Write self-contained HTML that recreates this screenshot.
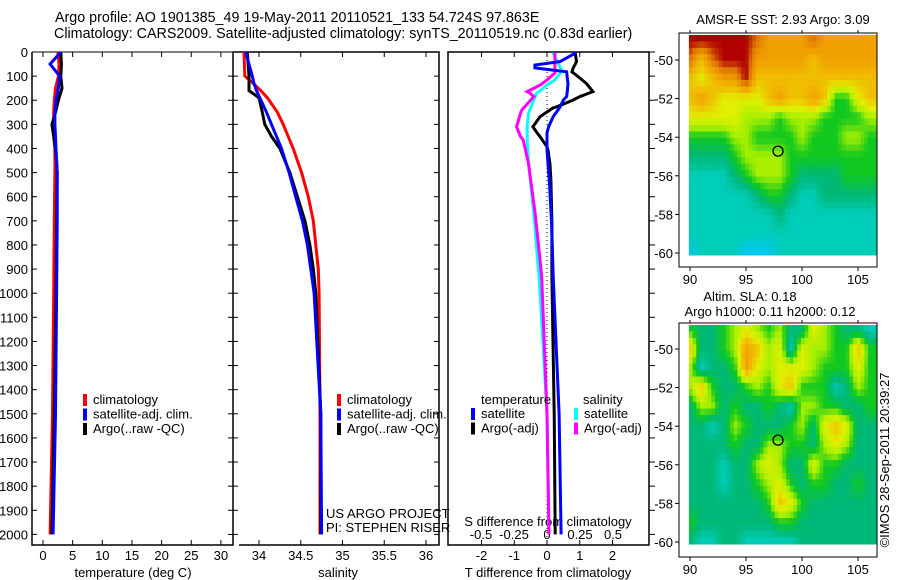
<!DOCTYPE html>
<html><head><meta charset="utf-8">
<style>
body{margin:0;background:#fff;}
svg{display:block;font-family:"Liberation Sans",sans-serif;}
text{font-size:12px;fill:#000;}
</style></head>
<body>
<svg id="fig" width="900" height="580" viewBox="0 0 900 580">
<text x="55" y="22" style="font-size:14.3px">Argo profile: AO 1901385_49 19-May-2011 20110521_133 54.724S 97.863E</text>
<text x="54" y="38" style="font-size:14.3px">Climatology: CARS2009. Satellite-adjusted climatology: synTS_20110519.nc (0.83d earlier)</text>
<g id="g"></g>
</svg>
<script>
// ---------- data ----------
const tDepth=[0,50,100,150,200,250,300,350,400,450,500,700,1000,1500,2000];
const tClim=[2.5,2.7,2.6,2.1,1.9,1.8,1.8,1.8,2.0,2.0,2.0,1.9,1.8,1.6,1.2];
const tSat=[3.0,1.2,2.8,2.6,2.2,2.0,2.0,2.1,2.2,2.3,2.4,2.4,2.3,2.1,1.7];
const tArgo=[3.0,3.1,3.0,3.2,2.6,2.1,1.5,1.8,2.1,2.3,2.4,2.3,2.2,1.9,1.5];

const sDepth=[0,100,130,160,190,250,300,350,400,500,600,700,800,900,1000,1500,2000];
const sClim=[33.82,33.83,33.93,34.02,34.1,34.22,34.29,34.35,34.41,34.51,34.59,34.65,34.68,34.71,34.72,34.73,34.73];
const sSat=[33.84,33.92,33.94,33.97,34.01,34.09,34.15,34.21,34.27,34.36,34.44,34.52,34.58,34.62,34.66,34.74,34.75];
const sArgo=[33.86,33.88,33.88,33.88,34.0,34.04,34.07,34.15,34.25,34.37,34.46,34.55,34.61,34.65,34.68,34.74,34.74];

const dtDepth=[3,40,54,66,82,108,130,164,185,199,227,232,268,310,336,351,393,406,462,531,710,932,1500,2000];
const dtSat=[0.89,0.4,-0.37,-0.37,0.6,0.62,0.64,0.62,0.6,0.5,0.4,0.38,0.19,0.05,0,0,0,0,0.03,0.07,0.14,0.19,0.37,0.43];
const dtArgo=[0.86,0.9,0.85,0.8,0.76,1.0,1.2,1.4,1.0,0.8,0.3,0.18,-0.21,-0.43,-0.3,-0.21,0,0.03,0.09,0.12,0.15,0.15,0.22,0.25];
const dsDepth=[3,75,87,116,137,164,170,185,240,253,310,351,365,462,668,876,932,1500,2000];
const dsSat=[0.045,0.11,0.1,0.06,0.0,-0.06,-0.076,-0.09,-0.13,-0.14,-0.15,-0.15,-0.15,-0.14,-0.1,-0.07,-0.06,0,0.015];
const dsArgo=[0.06,0.06,0.06,0.0,-0.05,-0.15,-0.13,-0.1,-0.19,-0.2,-0.23,-0.2,-0.18,-0.14,-0.09,-0.05,-0.04,0,0.015];

const depthTicks=[0,100,200,300,400,500,600,700,800,900,1000,1100,1200,1300,1400,1500,1600,1700,1800,1900,2000];
const tTicks=[0,5,10,15,20,25,30];
const sTicks=[34,34.5,35,35.5,36];
const sTickLabels=["34","34.5","35","35.5","36"];
const dtTicks=[-2,-1,0,1,2];
const dsTicks=[-0.5,-0.25,0,0.25,0.5];
const dsTickLabels=["-0.5","-0.25","0","0.25","0.5"];
const lonTicks=[90,95,100,105];
const latTicks=[-50,-52,-54,-56,-58,-60];

const mapLons=[90,91,92,93,94,95,96,97,98,99,100,101,102,103,104,105,106];
const mapLats=[-49,-50,-51,-52,-53,-54,-55,-56,-57,-58,-59,-60];
const sstGrid=[
[9,9,9,9,9,9,8,7,7,7,7,8,7,7,7,7,7],
[8,6,8,9,9,9,7,7,7,7,7,6,7,7,7,7,7],
[6,5,6,7,7,9,6,6,6,6,6,6,6,6,6,6,6],
[6,7,6,5,5,5,5,6,7,6,6,7,6,3,3,5,6],
[5,5,5,5,5,4,4,4,3,4,4,4,3,3,3,3,4],
[3,3,3,3,4,4,3,3,3,3,4,3,3,3,4,4,3],
[2,2,2,2,3,4,4,4,4,3,3,3,3,3,3,3,3],
[1,1,1,1,2,3,4,4,4,3,2,2,2,2,3,3,3],
[1,1,1,1,1,1,2,3,3,2,1,1,2,2,2,2,2],
[1,1,1,1,1,1,1,1,2,1,1,1,1,1,1,1,1],
[1,1,1,1,1,1,1,1,1,1,1,1,1,1,1,1,1],
[0,1,1,1,1,0,0,0,1,1,1,1,1,1,1,1,1]];
const slaGrid=[
[3,2,2,3,4,5,4,3,4,2,2,5,4,3,2,2,1],
[6,2,2,3,4,7,6,4,5,1,5,4,4,3,3,6,3],
[4,1,2,2,3,7,5,4,5,5,5,4,3,3,3,5,3],
[4,6,3,2,2,3,4,3,5,6,3,3,3,1,2,4,3],
[2,4,4,2,3,2,2,3,2,1,4,4,3,3,2,2,3],
[2,2,1,2,4,3,2,2,2,3,4,2,5,6,5,2,2],
[2,2,2,2,3,2,2,4,4,3,3,2,4,5,4,2,2],
[2,2,2,1,2,2,4,5,4,2,2,5,3,3,2,2,2],
[2,2,2,1,2,2,3,4,5,3,2,3,3,2,2,3,2],
[2,2,2,2,2,2,2,3,6,5,3,2,2,2,2,2,2],
[3,2,2,2,2,2,2,2,3,3,2,2,2,2,2,2,2],
[2,1,1,2,2,1,1,1,1,1,2,2,2,2,2,2,2]];
const floatLon=[97.86];
const floatLat=[-54.72];
const palette=[[0,200,240],[0,205,184],[0,184,120],[16,200,32],[168,240,0],[224,240,0],[240,192,0],[240,160,0],[224,120,0],[176,0,0]];

// ---------- helpers ----------
const NS="http://www.w3.org/2000/svg";
const G=document.getElementById('g');
function el(tag,attrs,parent){const e=document.createElementNS(NS,tag);for(const k in attrs)e.setAttribute(k,attrs[k]);(parent||G).appendChild(e);return e;}
function txt(x,y,s,anchor,size,parent){const t=el('text',{x:x,y:y,'text-anchor':anchor||'start'},parent);if(size)t.style.fontSize=size+'px';t.textContent=s;return t;}
const yD=d=>52+d*0.2412;
const xT=v=>43+v*5.93;
const xS=v=>259+(v-34)*83.5;
const xDT=v=>547+v*32.75;
const xDS=v=>547+v*132;

function poly(xs,ds,xf,color,name,w){
  let pts=[];
  for(let i=0;i<xs.length;i++){pts.push(xf(xs[i]).toFixed(1)+','+yD(ds[i]).toFixed(1));}
  const p=el('polyline',{points:pts.join(' '),fill:'none',stroke:color,'stroke-width':w||3});
  
  
}
function depthAxis(x0,x1,labels,name){
  const g=el('g',{});
  
  
  depthTicks.forEach(d=>{
    el('line',{x1:x0,y1:yD(d),x2:x0+5,y2:yD(d),stroke:'#000'},g);
    el('line',{x1:x1-5,y1:yD(d),x2:x1,y2:yD(d),stroke:'#000'},g);
    if(labels)txt(x0-4,yD(d)+5,String(d),'end',13,g);
  });
}
function xAxis(ticks,labs,xf,x0,x1,name){
  const g=el('g',{});
  
  
  ticks.forEach((v,i)=>{
    const x=xf(v);
    el('line',{x1:x,y1:545,x2:x,y2:540,stroke:'#000'},g);
    el('line',{x1:x,y1:52,x2:x,y2:57,stroke:'#000'},g);
    txt(x,560,labs?labs[i]:String(v),'middle',13,g);
  });
}
function legend(x,y,items,name){
  const g=el('g',{});
  
  
  items.forEach((it,i)=>{
    const yy=y+i*14.5;
    el('rect',{x:x,y:yy-10,width:4,height:12,fill:it[0]},g);
    txt(x+10,yy,it[1],'start',13,g);
  });
}

// ---------- panel 1: temperature ----------
el('path',{d:'M32 52 V545 H233 V52',fill:'none',stroke:'#000','stroke-width':1.5});
el('line',{x1:32,y1:52,x2:233,y2:52,stroke:'#000'});
depthAxis(32,233,true,'depth-axis');
xAxis(tTicks,null,xT,32,233,'temperature-axis');
txt(133,577,'temperature (deg C)','middle',13);
poly(tClim,tDepth,xT,'#ff0000','temp-climatology-line');
poly(tArgo,tDepth,xT,'#000000','temp-argo-line');
poly(tSat,tDepth,xT,'#0000ff','temp-satellite-line');
legend(83,404,[['#ff0000','climatology'],['#0000ff','satellite-adj. clim.'],['#000000','Argo(..raw -QC)']],'temperature-legend');

// ---------- panel 2: salinity ----------
el('path',{d:'M239 545 H439 V52 H233',fill:'none',stroke:'#000','stroke-width':1.5});
depthAxis(233,439,false,'salinity-depth-ticks');
xAxis(sTicks,sTickLabels,xS,239,439,'salinity-axis');
txt(338,577,'salinity','middle',13);
poly(sClim,sDepth,xS,'#ff0000','sal-climatology-line');
poly(sArgo,sDepth,xS,'#000000','sal-argo-line');
poly(sSat,sDepth,xS,'#0000ff','sal-satellite-line');
legend(337,404,[['#ff0000','climatology'],['#0000ff','satellite-adj. clim.'],['#000000','Argo(..raw -QC)']],'salinity-legend');
txt(326,518,'US ARGO PROJECT','start',13);
txt(326,532,'PI: STEPHEN RISER','start',13);

// ---------- panel 3: differences ----------
el('rect',{x:448,y:52,width:201,height:493,fill:'none',stroke:'#000','stroke-width':1.5});
depthTicks.forEach(d=>{el('line',{x1:649,y1:yD(d),x2:655,y2:yD(d),stroke:'#000'});});
dtTicks.forEach(v=>{const x=xDT(v);el('line',{x1:x,y1:52,x2:x,y2:57,stroke:'#000'});el('line',{x1:x,y1:545,x2:x,y2:540,stroke:'#000'});txt(x,560,String(v),'middle',13);});
dsTicks.forEach((v,i)=>{txt(xDS(v),539,dsTickLabels[i],'middle',13);});
txt(548,526,'S difference from climatology','middle',13);
txt(548,577,'T difference from climatology','middle',13);
el('line',{x1:547,y1:52,x2:547,y2:545,stroke:'#000','stroke-dasharray':'1,3'});
poly(dsSat,dsDepth,xDS,'#00ffff','sal-diff-satellite-line');
poly(dsArgo,dsDepth,xDS,'#ff00ff','sal-diff-argo-line');
poly(dtArgo,dtDepth,xDT,'#000000','temp-diff-argo-line');
poly(dtSat,dtDepth,xDT,'#0000ff','temp-diff-satellite-line');
txt(481,404,'temperature','start',13);
legend(471,418,[['#0000ff','satellite'],['#000000','Argo(-adj)']],'temp-diff-legend');
txt(583,404,'salinity','start',13);
legend(574,418,[['#00ffff','satellite'],['#ff00ff','Argo(-adj)']],'sal-diff-legend');

// ---------- maps ----------
function sample(grid,lon,lat){
  let c=Math.min(Math.max(lon-mapLons[0],0),mapLons.length-1);
  let r=Math.min(Math.max(mapLats[0]-lat,0),mapLats.length-1);
  const c0=Math.min(Math.floor(c),mapLons.length-2),r0=Math.min(Math.floor(r),mapLats.length-2);
  const fc=c-c0,fr=r-r0;
  return grid[r0][c0]*(1-fc)*(1-fr)+grid[r0][c0+1]*fc*(1-fr)+grid[r0+1][c0]*(1-fc)*fr+grid[r0+1][c0+1]*fc*fr;
}
function colorOf(v){
  v=Math.max(0,Math.min(palette.length-1,v));
  const i=Math.min(Math.floor(v),palette.length-2),f=v-i;
  const a=palette[i],b=palette[i+1];
  return 'rgb('+[0,1,2].map(k=>Math.round(a[k]+(b[k]-a[k])*f)).join(',')+')';
}
function map(y0,grid,latAt50,name){
  const g=el('g',{});
  
  
  const xL=lon=>690+(lon-90)*11.2;
  const yL=lat=>latAt50+(-50-lat)*19.3;
  const lonMin=89.9,lonMax=106.6,latMax=-50+(latAt50-(y0+2))/19.3,latMin=-60.1;
  const step=1/3;
  for(let lat=latMax;lat>latMin;lat-=step){
    for(let lon=lonMin;lon<lonMax;lon+=step){
      const v=sample(grid,lon+step/2,lat-step/2);
      const x0=xL(lon),x1=Math.min(xL(lonMax),xL(lon+step));
      const ya=yL(lat),yb=Math.min(yL(latMin),yL(lat-step));
      const cell=el('rect',{x:x0.toFixed(1),y:ya.toFixed(1),width:(x1-x0+0.6).toFixed(1),height:(yb-ya+0.6).toFixed(1),fill:colorOf(v)},g);
      
      
    }
  }
  el('rect',{x:679,y:y0,width:198,height:234,fill:'none',stroke:'#000'},g);
  lonTicks.forEach(l=>{const x=xL(l);el('line',{x1:x,y1:y0,x2:x,y2:y0-3,stroke:'#000'},g);el('line',{x1:x,y1:y0+234,x2:x,y2:y0+238,stroke:'#000'},g);txt(x,y0+251,String(l),'middle',13,g);});
  latTicks.forEach(l=>{const y=yL(l);el('line',{x1:679,y1:y,x2:675,y2:y,stroke:'#000'},g);txt(673,y+5,String(l),'end',13,g);});
  const c=el('circle',{cx:xL(floatLon[0]),cy:yL(floatLat[0]),r:5,fill:'none',stroke:'#000','stroke-width':1.3},g);
  
  
}
map(33,sstGrid,60,'sst-map');
txt(783,24,'AMSR-E SST: 2.93 Argo: 3.09','middle',13);
map(323,slaGrid,349,'sla-map');
txt(750,301,'Altim. SLA: 0.18','middle',13);
txt(770,316,'Argo h1000: 0.11 h2000: 0.12','middle',13);
const cr=txt(0,0,'©IMOS 28-Sep-2011 20:39:27','middle',13);
cr.setAttribute('transform','translate(889,460) rotate(-90)');


</script>
</body></html>
